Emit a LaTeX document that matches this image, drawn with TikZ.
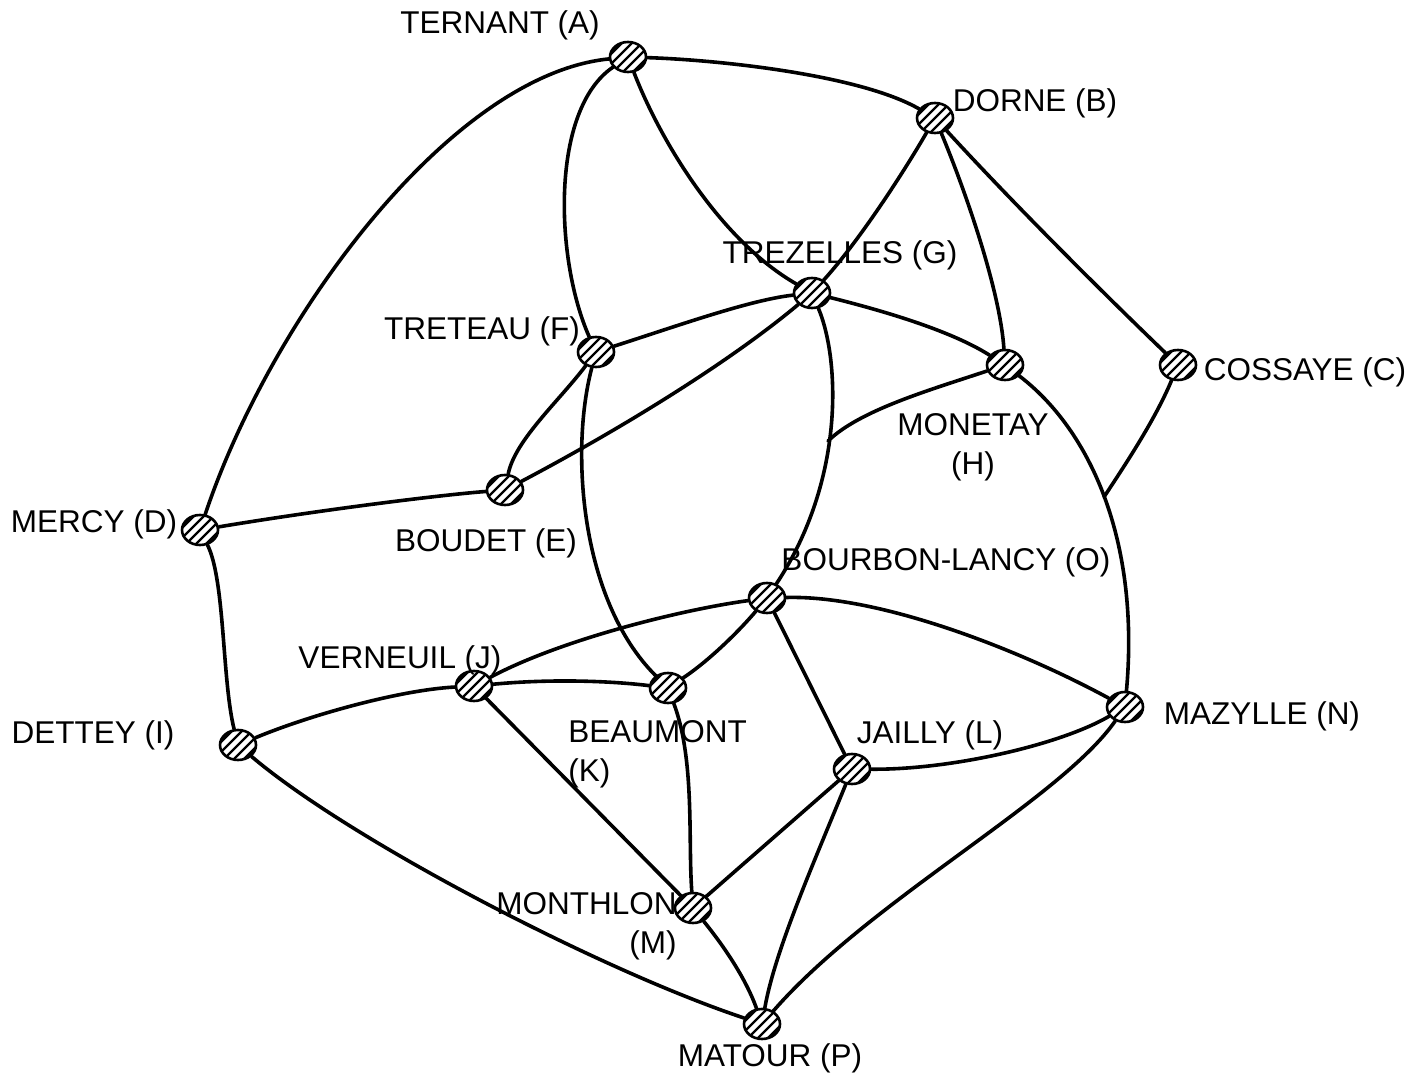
\documentclass[tikz,border=0pt]{standalone}
\usepackage{fontspec}
\setmainfont{Liberation Sans}
\usetikzlibrary{shapes.geometric}
\begin{document}
\begin{tikzpicture}[x=0.5pt,y=-0.5pt,
  town/.style={ellipse, draw, line width=1.3pt, minimum width=18pt,
    minimum height=15pt, inner sep=0pt, fill=white,
    path picture={\foreach \d in {-30,-20,...,30}
      \draw[line width=1.1pt, shift={(path picture bounding box.center)}]
        ({\d-20},20) -- ({\d+20},-20);}},
  road/.style={line width=1.8pt, line cap=round},
  lbl/.style={font=\fontsize{15.75}{19.5}\selectfont, inner sep=0pt}]
\useasboundingbox (0,0) rectangle (1426,1079);

% towns
\node[town] (A) at (628,57) {};
\node[town] (B) at (935,118) {};
\node[town] (C) at (1178,365) {};
\node[town] (D) at (200,530) {};
\node[town] (E) at (505,490) {};
\node[town] (F) at (596,352) {};
\node[town] (G) at (812,293) {};
\node[town] (H) at (1005,365) {};
\node[town] (I) at (238,745) {};
\node[town] (J) at (474,686) {};
\node[town] (K) at (668,688) {};
\node[town] (L) at (852,769) {};
\node[town] (M) at (693,908) {};
\node[town] (N) at (1125,707) {};
\node[town] (O) at (767,598) {};
\node[town] (P) at (762,1024) {};

% points where a road joins another road
\coordinate (hn) at (1104,497);
\coordinate (go) at (828,441);

% names
\node[lbl] (tA) at (500,25) {TERNANT (A)};
\node[lbl] (tB) at (1035,103) {DORNE (B)};
\node[lbl] (tC) at (1305,372) {COSSAYE (C)};
\node[lbl] (tD) at (94,524) {MERCY (D)};
\node[lbl] (tE) at (486,543) {BOUDET (E)};
\node[lbl] (tF) at (482,331) {TRETEAU (F)};
\node[lbl] (tG) at (840,255) {TREZELLES (G)};
\node[lbl, align=center] (tH) at (973,447) {MONETAY\\(H)};
\node[lbl] (tI) at (93,735) {DETTEY (I)};
\node[lbl] (tJ) at (400,660) {VERNEUIL (J)};
\node[lbl, align=left, anchor=west] (tK) at (568,754) {BEAUMONT\\(K)};
\node[lbl] (tL) at (930,735) {JAILLY (L)};
\node[lbl, align=right, anchor=east] (tM) at (677,926) {MONTHLON\\(M)};
\node[lbl] (tN) at (1262,716) {MAZYLLE (N)};
\node[lbl] (tO) at (946,562) {BOURBON-LANCY (O)};
\node[lbl] (tP) at (770,1058) {MATOUR (P)};

% roads
\draw[road] (A) .. controls (450,75) and (270,320) .. (D);
\draw[road] (A) .. controls (720,60) and (860,75) .. (B);
\draw[road] (A) .. controls (550,110) and (555,260) .. (F);
\draw[road] (A) .. controls (660,140) and (720,240) .. (G);
\draw[road] (B) .. controls (905,170) and (860,240) .. (G);
\draw[road] (B) .. controls (965,190) and (1000,290) .. (H);
\draw[road] (B) .. controls (1010,200) and (1100,290) .. (C);
\draw[road] (C) .. controls (1155,420) and (1125,465) .. (hn);
\draw[road] (H) .. controls (1090,430) and (1140,540) .. (N);
\draw[road] (G) .. controls (880,310) and (950,330) .. (H);
\draw[road] (G) .. controls (840,360) and (845,480) .. (O);
\draw[road] (H) .. controls (930,390) and (860,410) .. (go);
\draw[road] (F) .. controls (680,325) and (750,300) .. (G);
\draw[road] (E) .. controls (600,440) and (720,370) .. (G);
\draw[road] (F) .. controls (560,400) and (515,440) .. (E);
\draw[road] (F) .. controls (570,450) and (580,600) .. (K);
\draw[road] (D) .. controls (320,510) and (440,495) .. (E);
\draw[road] (D) .. controls (225,580) and (222,680) .. (I);
\draw[road] (I) .. controls (310,715) and (400,690) .. (J);
\draw[road] (I) .. controls (350,840) and (600,970) .. (P);
\draw[road] (J) .. controls (560,678) and (620,682) .. (K);
\draw[road] (J) .. controls (560,640) and (680,610) .. (O);
\draw[road] (J) -- (M);
\draw[road] (K) .. controls (710,660) and (740,630) .. (O);
\draw[road] (K) .. controls (695,760) and (688,840) .. (M);
\draw[road] (O) -- (L);
\draw[road] (O) .. controls (880,595) and (1020,650) .. (N);
\draw[road] (L) .. controls (950,770) and (1060,745) .. (N);
\draw[road] (L) -- (M);
\draw[road] (L) .. controls (815,860) and (775,950) .. (P);
\draw[road] (M) .. controls (735,960) and (750,990) .. (P);
\draw[road] (N) .. controls (1060,800) and (870,900) .. (P);
\end{tikzpicture}
\end{document}
